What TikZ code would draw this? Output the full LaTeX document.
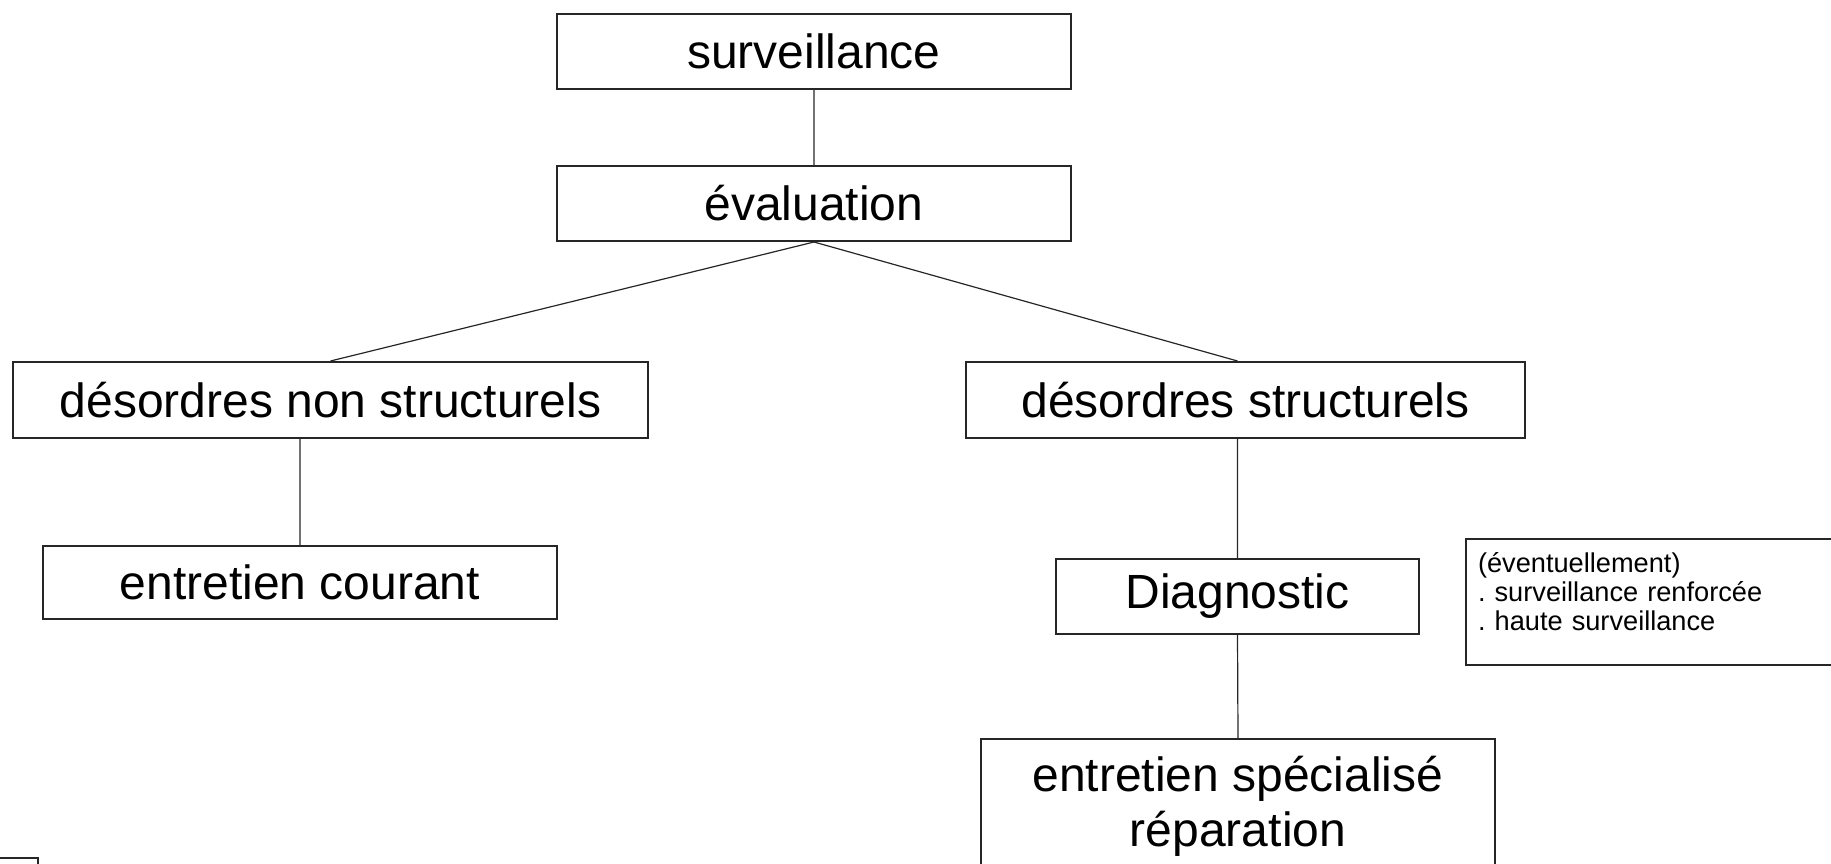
\documentclass[tikz,border=0pt]{standalone}
\usepackage{fontspec}
\setmainfont{Liberation Sans}
\usepackage{tikz}
\usetikzlibrary{positioning}

\begin{document}
\frenchspacing
\begin{tikzpicture}[
  x=0.5pt, y=-0.5pt,
  font=\fontsize{24}{27.5}\selectfont,
  box/.style={draw=black!85, line width=1pt, inner sep=0pt, align=center},
  note/.style={draw=black!85, line width=1pt, inner xsep=6pt, align=left,
    font=\fontsize{13.6}{14.5}\selectfont},
]
  \useasboundingbox (0,0) rectangle (1831,863);
  \clip (0,0) rectangle (1831,863);

  \node[box, minimum width=257pt, minimum height=37.5pt] (surv) at (814,51.5) {surveillance};
  \node[box, minimum width=257pt, minimum height=37.5pt] (eval) at (814,203.5) {évaluation};
  \node[box, minimum width=317.5pt, minimum height=38pt] (dns) at (330.5,400) {désordres non structurels};
  \node[box, minimum width=279.5pt, minimum height=38pt] (ds) at (1245.5,400) {désordres structurels};
  \node[box, minimum width=257pt, minimum height=36.5pt] (ec) at (300,582.5) {entretien courant};
  \node[box, minimum width=181.5pt, minimum height=37.5pt] (diag) at (1237.5,596.5) {Diagnostic};
  \node[box, minimum width=257pt, minimum height=67pt] (esr) at (1238,806) {entretien spécialisé\\réparation};
  \node[note, anchor=north west, text width=178pt, text depth=40pt, minimum height=63pt] (evt) at (1465,538)
    {(éventuellement)\\. surveillance renforcée\\. haute surveillance};
  \node[box, anchor=north east, minimum width=40pt, minimum height=20pt] (frag) at (39,857) {};

  \begin{scope}[draw=black!85, line width=0.6pt]
    \draw[-]
      (surv.south) -- (eval.north)
      (eval.south) -- (dns.north)
      (eval.south) -- (ds.north -| diag.north)
      (dns.south -| ec.north) -- (ec.north)
      (ds.south -| diag.north) -- (diag.north)
      (diag.south) -- (esr.north);
  \end{scope}
\end{tikzpicture}
\end{document}
